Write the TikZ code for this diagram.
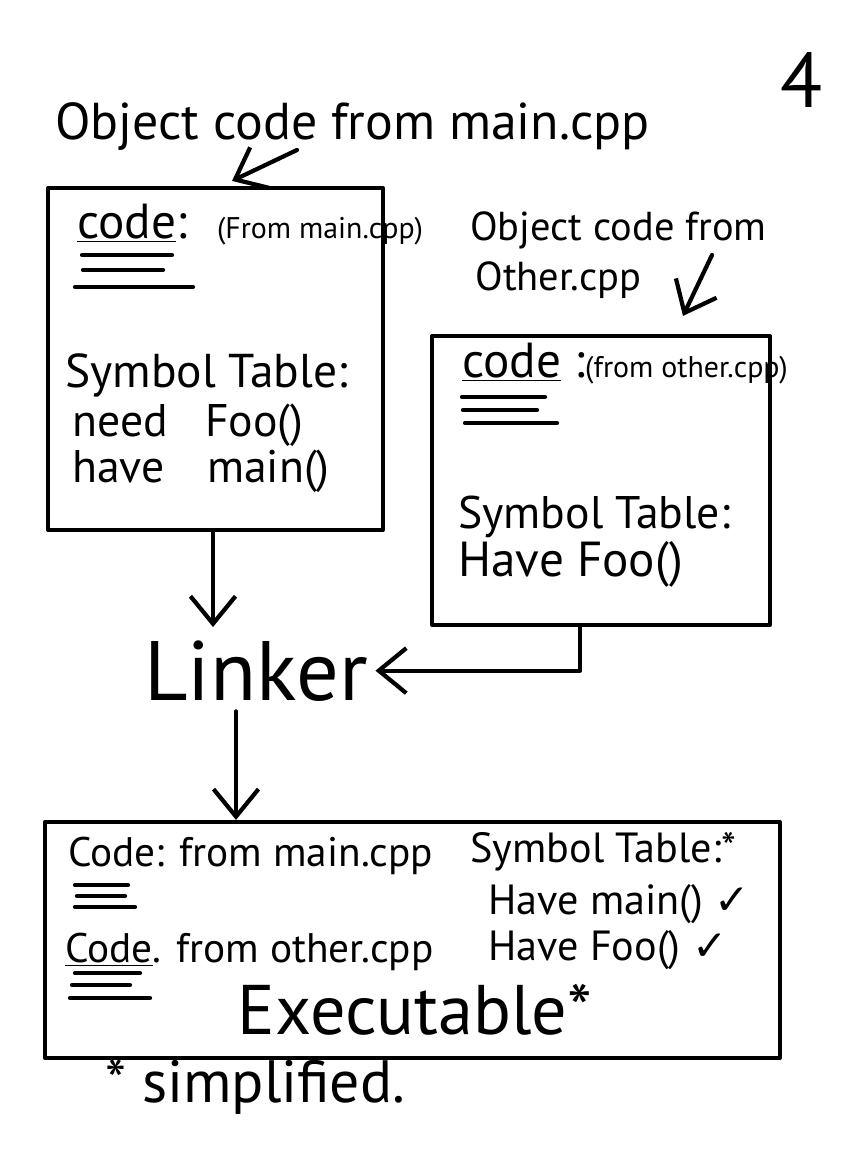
\documentclass[tikz,border=0pt]{standalone}
\usepackage{fontspec}
\setmainfont{PT Sans}
\newfontfamily\tickfont{DejaVu Sans}
\usetikzlibrary{arrows.meta,positioning}
\newcommand\inksize[1]{\fontsize{#1}{#1}\selectfont}
\newcommand\tick{{\tickfont ✓}}

\tikzset{
    pen/.style={line width=2.4pt, line cap=round, line join=round},
    panel/.style={pen, draw, rectangle, inner sep=0pt},
    hand/.style={anchor=base west, inner sep=0pt},
    flow/.style={pen, -{Straight Barb[length=5.5mm, width=9mm]}},
}

\begin{document}
\begin{tikzpicture}[x=0.02cm, y=-0.02cm]
    \useasboundingbox (0,0) rectangle (864,1152);

    % page number
    \node (page) [hand] at (780,108) {\inksize{44}4};

    % object code from main.cpp
    \node (title1) [hand] at (55,140) {\inksize{29.5}Object code from main.cpp};
    \node (box1) [panel, minimum width=6.7cm, minimum height=6.84cm] at (215.5,359) {};
    \node (code1) [hand] at (77,238) {\inksize{28}\underline{code}:\hspace{0.6cm}\inksize{17}(From main.cpp)};
    \foreach \ya/\xa/\xb in {255/82/172, 270/83/163, 287/75/193}
        \draw[pen] (\xa,\ya) -- (\xb,\ya);
    \node (sym1) [hand] at (65,387) {\inksize{27}Symbol Table:};
    \node (need1) [hand] at (72,436) {\inksize{26}need\hspace{0.75cm}Foo()};
    \node (have1) [hand] at (72,482) {\inksize{26}have\hspace{0.85cm}main()};

    % object code from other.cpp
    \node (title2a) [hand] at (470,240) {\inksize{23}Object code from};
    \node (title2b) [hand] at (475,290) {\inksize{23}Other.cpp};
    \node (box2) [panel, minimum width=6.76cm, minimum height=5.78cm] at (601,480.5) {};
    \node (code2) [hand] at (462,377) {\inksize{28}\underline{code} :\inksize{17}(from other.cpp)};
    \foreach \ya/\xa/\xb in {397/462/545, 410/463/537, 423/465/557}
        \draw[pen] (\xa,\ya) -- (\xb,\ya);
    \node (sym2) [hand] at (458,528) {\inksize{26}Symbol Table:};
    \node (have2) [hand] at (458,576) {\inksize{28}Have Foo()};

    % linker
    \node (linker) [anchor=base, inner sep=0pt] at (256,700) {\inksize{48}Linker};

    % executable
    \node (box3) [panel, minimum width=14.7cm, minimum height=4.72cm] at (412.5,940) {};
    \node (main3) [hand] at (68,866) {\inksize{23.5}Code: from main.cpp};
    \node (sym3) [hand] at (470,862) {\inksize{24}Symbol Table:*};
    \node (havemain) [hand] at (488,914) {\inksize{24}Have main() \tick};
    \node (other3) [hand] at (65,962) {\inksize{23.5}\underline{Code}. from other.cpp};
    \node (havefoo) [hand] at (488,960) {\inksize{24}Have Foo() \tick};
    \foreach \ya/\xa/\xb in {885/75/128, 896/77/125, 907/75/135, 973/75/140, 985/72/130, 998/70/150}
        \draw[pen] (\xa,\ya) -- (\xb,\ya);
    \node (exe) [anchor=base, inner sep=0pt] at (415,1034) {\inksize{40}Executable*};

    \node (note) [hand] at (105,1102) {\inksize{34}* simplified.};

    % arrows
    \coordinate (from1) at (297,150);
    \draw[flow] (from1) -- ([xshift=0.33cm, yshift=0.1cm]box1.north);
    \coordinate (from2) at (712,255);
    \draw[flow] (from2) -- ([xshift=1.64cm, yshift=0.36cm]box2.north);
    \draw[flow] ([xshift=-0.05cm]box1.south) -- ([xshift=-0.05cm, yshift=-1.9cm]box1.south);
    \coordinate (rise) at ([xshift=-0.42cm]box2.south);
    \draw[flow] (rise) |- ([xshift=0.15cm]linker.east);
    \coordinate (drop) at ([xshift=-0.4cm]linker.south);
    \draw[flow] ([yshift=-0.2cm]drop) -- (drop |- box3.north);
\end{tikzpicture}
\end{document}
